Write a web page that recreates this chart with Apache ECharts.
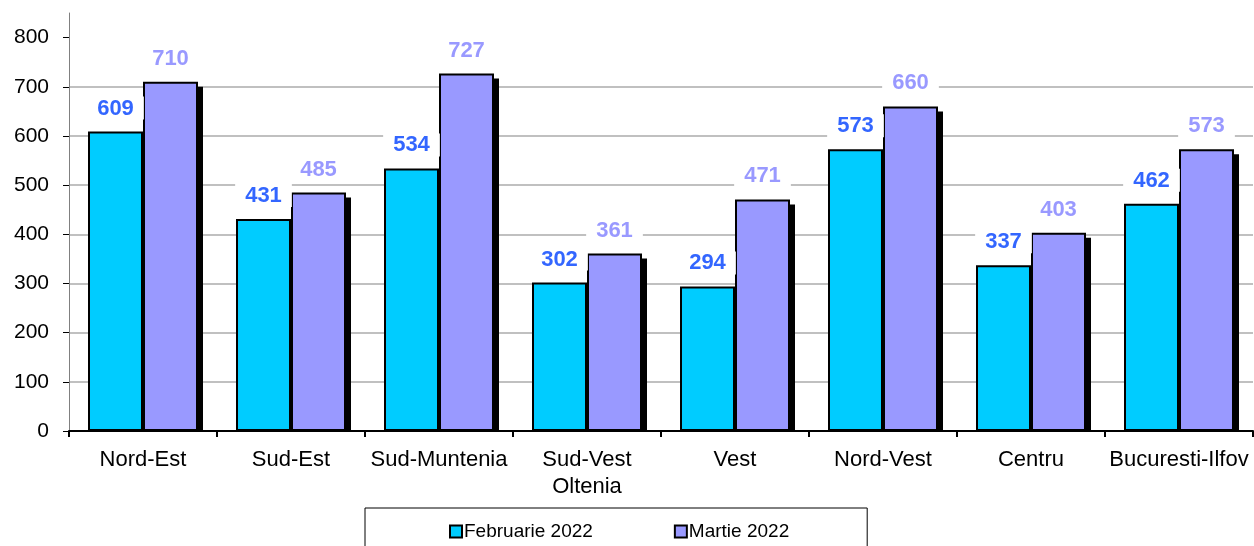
<!DOCTYPE html>
<html>
<head>
<meta charset="utf-8">
<script src="https://cdn.jsdelivr.net/npm/echarts@6/dist/echarts.min.js"></script>
<style>
  html, body { margin: 0; padding: 0; background: #fff; }
  #chart { width: 1254px; height: 546px; }
</style>
</head>
<body>
<div id="chart"></div>
<script>
/* Regional totals, Feb vs Mar 2022 - clustered bars with Excel-style shadow. */
const regions = ["Nord-Est", "Sud-Est", "Sud-Muntenia", "Sud-Vest\nOltenia", "Vest", "Nord-Vest", "Centru", "Bucuresti-Ilfov"];
const feb2022 = [609, 431, 534, 302, 294, 573, 337, 462];
const mar2022 = [710, 485, 727, 361, 471, 660, 403, 573];
const yTicks = [0, 100, 200, 300, 400, 500, 600, 700, 800];

const FONT = "Liberation Sans, Arial, sans-serif";
const BAR_W = 55, SHADOW = 5;

const chart = echarts.init(document.getElementById("chart"));

const valLabel = (color) => ({
  show: true, position: "top", distance: 12,
  color, fontFamily: FONT, fontSize: 22, fontWeight: "bold",
  backgroundColor: "#fff", padding: [1, 10, 0, 10],
});

chart.setOption({
  animation: false,
  textStyle: { fontFamily: FONT },
  grid: { left: 69, right: 1, top: 13, bottom: 115, containLabel: false },
  legend: {
    left: 365, top: 508,
    padding: [14, 78, 20, 84],
    borderColor: "#000", borderWidth: 1,
    itemGap: 81, itemWidth: 12, itemHeight: 12, icon: "rect",
    itemStyle: { borderColor: "#000", borderWidth: 2 },
    textStyle: { fontFamily: FONT, fontSize: 19, color: "#000", padding: [0, 0, 0, -3] },
    data: ["Februarie 2022", "Martie 2022"],
  },
  xAxis: {
    type: "category", data: regions,
    axisLine: { lineStyle: { color: "#000", width: 2 } },
    axisTick: { show: true, length: 6, lineStyle: { color: "#000", width: 2 } },
    axisLabel: { color: "#000", fontSize: 22, fontFamily: FONT, margin: 15, lineHeight: 27, interval: 0 },
    splitLine: { show: false },
  },
  yAxis: {
    type: "value", min: 0, max: 850, interval: 50,
    axisLine: { show: true, lineStyle: { color: "#808080", width: 1 } },
    axisTick: { show: true, length: 6, customValues: yTicks, lineStyle: { color: "#000" } },
    axisLabel: { color: "#000", fontSize: 21, fontFamily: FONT, margin: 20, customValues: yTicks },
    splitLine: { show: true, showMaxLine: false, showMinLine: false, lineStyle: { color: "#c0c0c0", width: 2 } },
  },
  series: [
    {
      // drop shadow behind the March bars, clipped at the axis
      type: "custom", z: 1, silent: true,
      renderItem: (params, api) => {
        const top = api.coord([api.value(0), api.value(1)]);
        const base = api.coord([api.value(0), 0]);
        return {
          type: "rect",
          shape: { x: top[0] + SHADOW, y: top[1] + SHADOW, width: BAR_W, height: base[1] - top[1] - SHADOW },
          style: { fill: "#000" },
        };
      },
      data: mar2022.map((v, i) => [i, v]),
    },
    {
      name: "Februarie 2022", type: "bar", z: 2, data: feb2022,
      barWidth: BAR_W, barGap: "0%",
      itemStyle: { color: "#00ccff", borderColor: "#000", borderWidth: 2 },
      label: valLabel("#3366ff"),
    },
    {
      name: "Martie 2022", type: "bar", z: 2, data: mar2022,
      barWidth: BAR_W, barGap: "0%",
      itemStyle: { color: "#9999ff", borderColor: "#000", borderWidth: 2 },
      label: valLabel("#9999ff"),
    },
  ],
});
</script>
</body>
</html>
